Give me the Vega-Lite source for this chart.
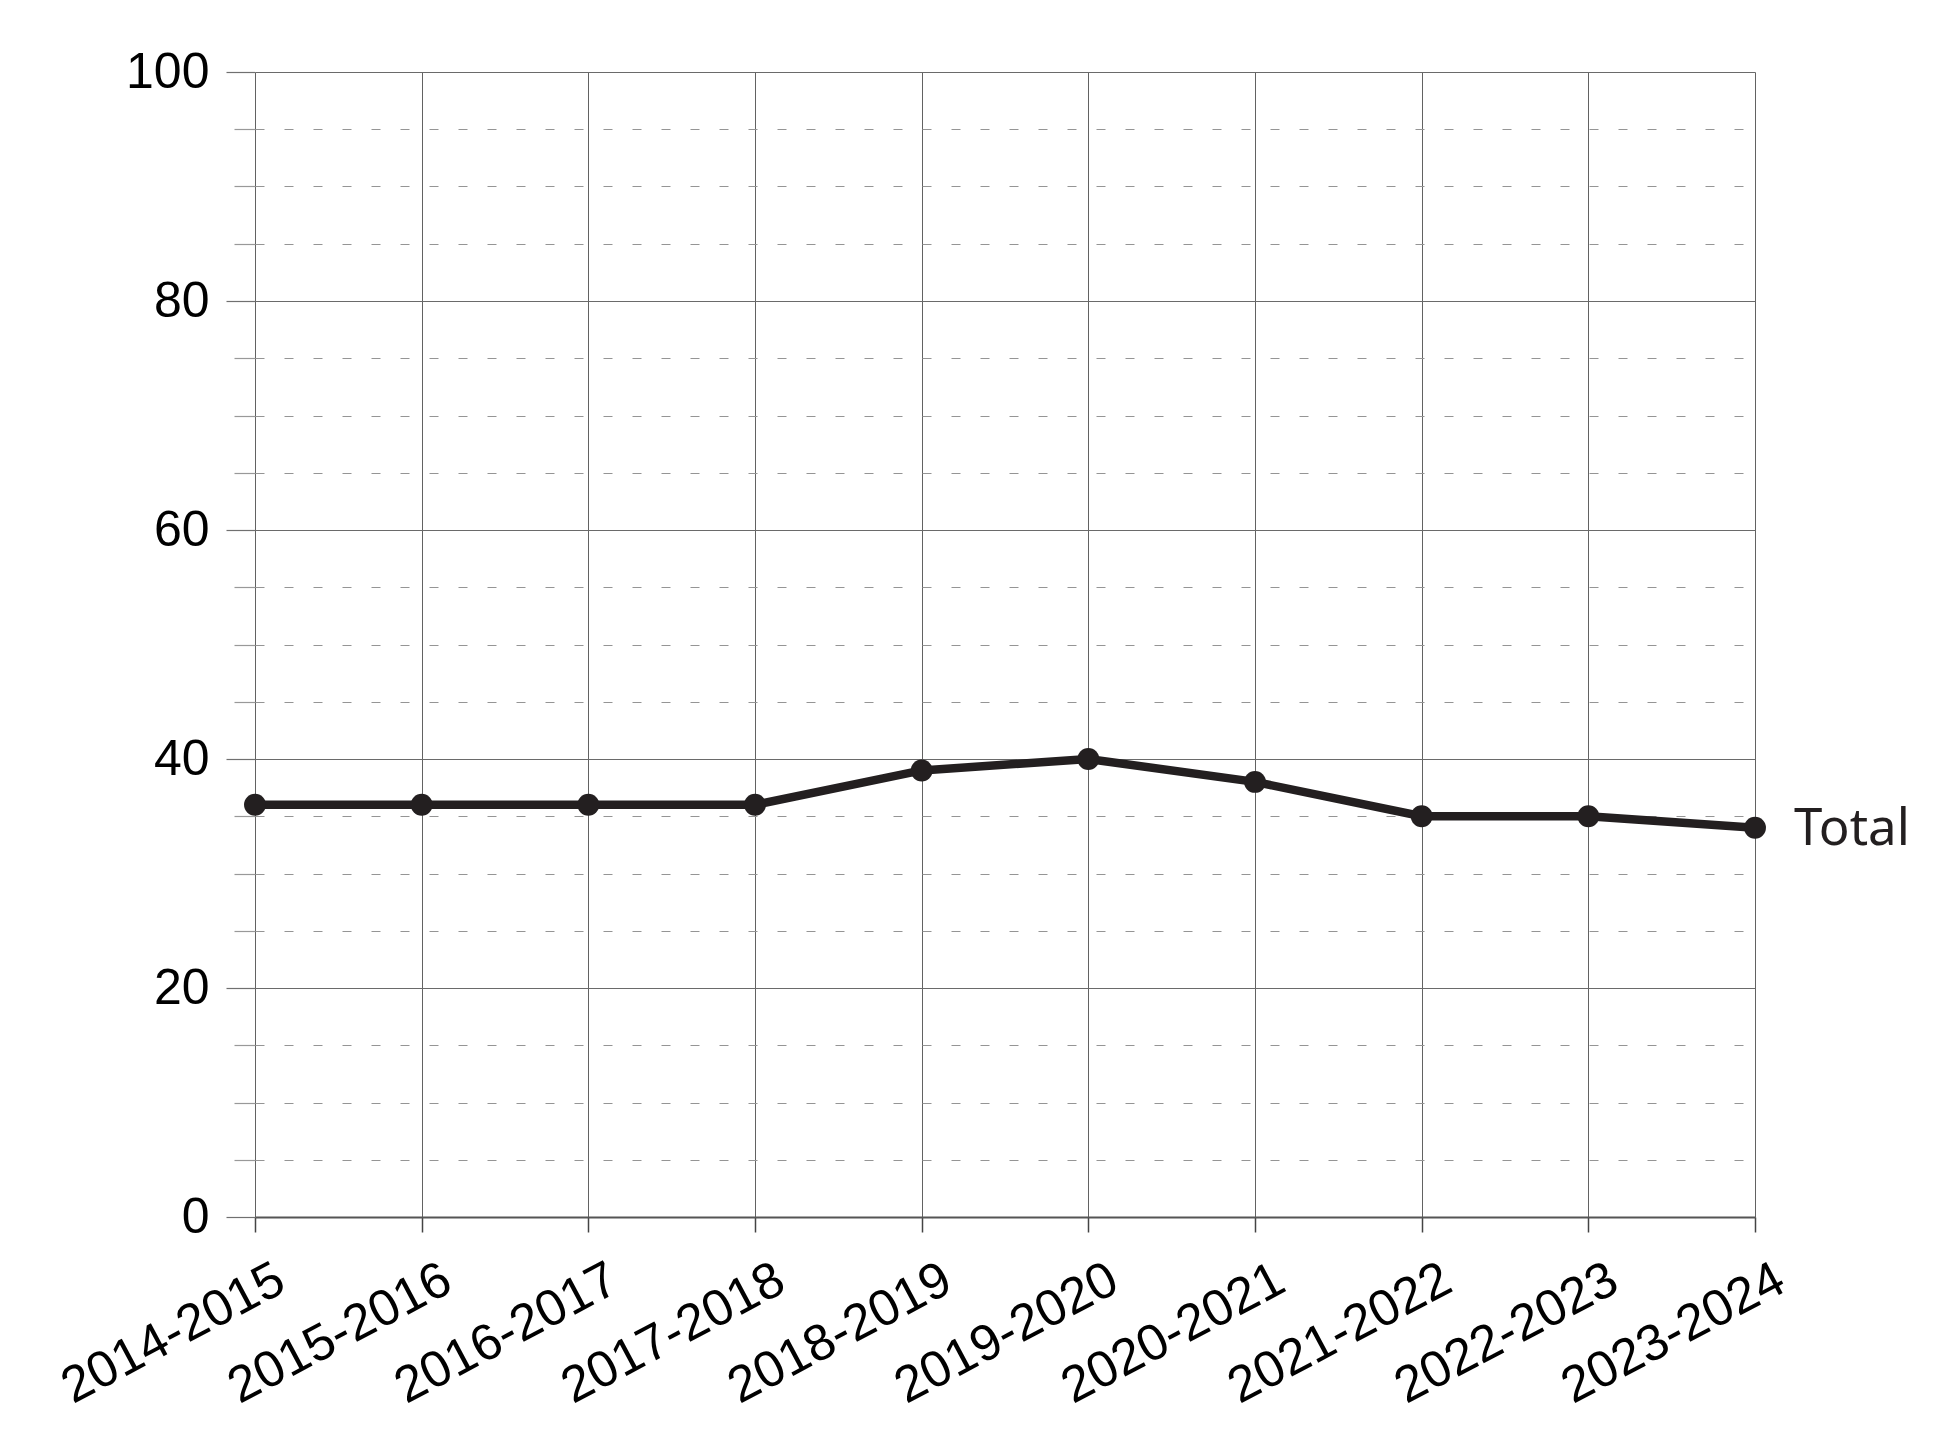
{
  "$schema": "https://vega.github.io/schema/vega-lite/v6.json",
  "autosize": "none",
  "width": 1500,
  "height": 1145,
  "padding": {"left": 255, "top": 72, "right": 195, "bottom": 239},
  "background": "white",
  "config": {"view": {"stroke": null}},
  "data": {
    "values": [
      {"year": "2014-2015", "value": 36},
      {"year": "2015-2016", "value": 36},
      {"year": "2016-2017", "value": 36},
      {"year": "2017-2018", "value": 36},
      {"year": "2018-2019", "value": 39},
      {"year": "2019-2020", "value": 40},
      {"year": "2020-2021", "value": 38},
      {"year": "2021-2022", "value": 35},
      {"year": "2022-2023", "value": 35},
      {"year": "2023-2024", "value": 34}
    ]
  },
  "encoding": {
    "x": {
      "field": "year",
      "type": "ordinal",
      "sort": null,
      "scale": {"type": "point", "padding": 0},
      "axis": {
        "title": null,
        "labelAngle": -28,
        "labelAlign": "right",
        "labelBaseline": "top",
        "labelFont": "Liberation Sans",
        "labelFontSize": 51,
        "labelColor": "#000000",
        "labelLimit": 0,
        "labelPadding": 22,
        "labelOffset": 14,
        "tickSize": 15,
        "tickColor": "#444444",
        "tickWidth": 1.5,
        "domainColor": "#555555",
        "domainWidth": 2,
        "grid": true,
        "gridColor": "#626262",
        "gridWidth": 1
      }
    },
    "y": {
      "field": "value",
      "type": "quantitative",
      "scale": {"domain": [0, 100], "nice": false},
      "axis": {
        "title": null,
        "values": [0, 5, 10, 15, 20, 25, 30, 35, 40, 45, 50, 55, 60, 65, 70, 75, 80, 85, 90, 95, 100],
        "labelExpr": "datum.value % 20 === 0 ? datum.label : ''",
        "labelFont": "Liberation Sans",
        "labelFontSize": 50,
        "labelColor": "#000000",
        "labelPadding": 17,
        "domain": false,
        "tickSize": {"condition": {"test": "datum.value % 20 === 0", "value": 29}, "value": 21},
        "tickColor": {"condition": {"test": "datum.value % 20 === 0", "value": "#707070"}, "value": "#999999"},
        "tickWidth": 1.2,
        "grid": true,
        "gridColor": {"condition": {"test": "datum.value % 20 === 0", "value": "#6a6a6a"}, "value": "#959595"},
        "gridDash": {"condition": {"test": "datum.value % 20 === 0", "value": []}, "value": [9, 20]},
        "gridWidth": 1.2
      }
    }
  },
  "layer": [
    {
      "mark": {"type": "line", "color": "#231f20", "strokeWidth": 8.5}
    },
    {
      "mark": {"type": "point", "filled": true, "color": "#231f20", "size": 480, "opacity": 1}
    },
    {
      "transform": [{"filter": "datum.year === '2023-2024'"}],
      "mark": {"type": "text", "align": "left", "baseline": "middle", "dx": 39, "dy": 2, "fontSize": 51, "font": "Noto Sans", "color": "#231f20"},
      "encoding": {"text": {"value": "Total"}}
    }
  ]
}
